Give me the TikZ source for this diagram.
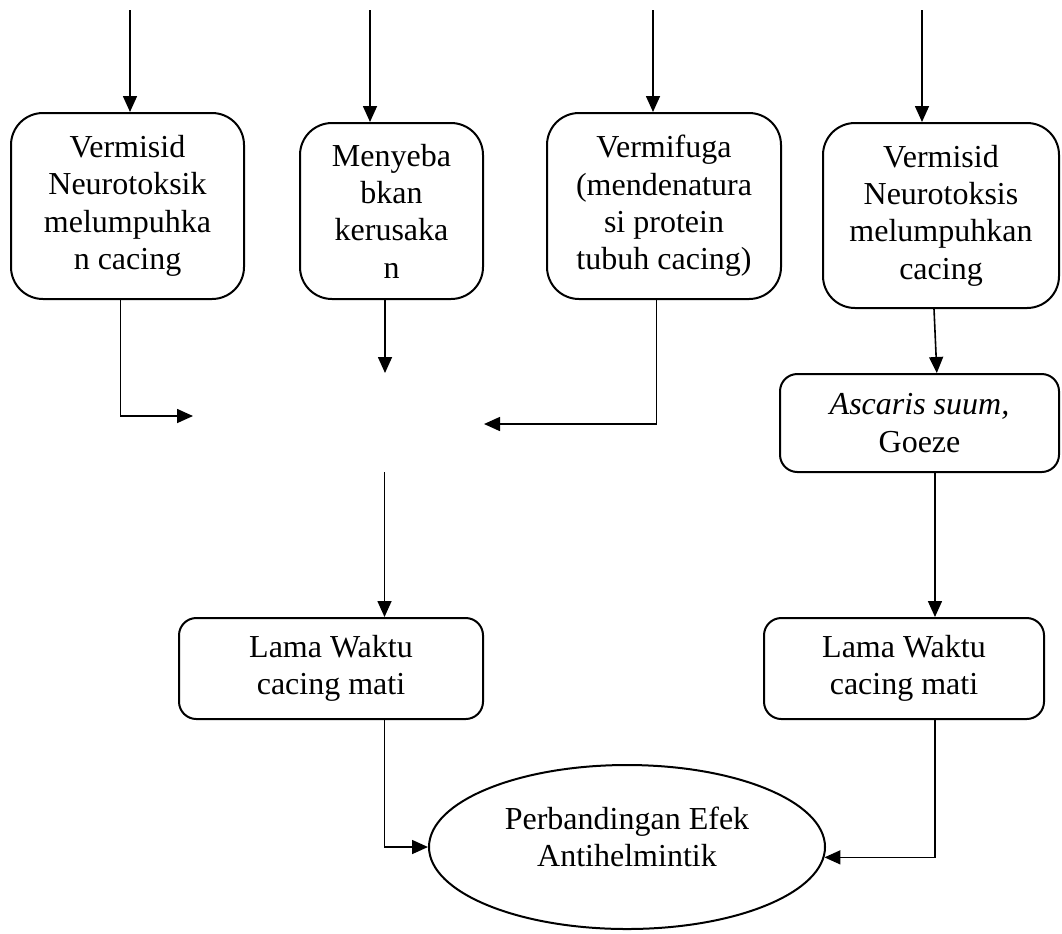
\documentclass[tikz,border=0pt]{standalone}
\usepackage{fontspec}
\setmainfont{Liberation Serif}
\usetikzlibrary{arrows.meta,shapes.geometric}
\begin{document}
\begin{tikzpicture}[x=0.75pt,y=-0.75pt,
  every node/.style={font=\fontsize{24}{28}\selectfont},
  box/.style={draw,line width=1.5pt,rounded corners=24pt,align=center,inner sep=0pt},
  sbox/.style={draw,line width=1.5pt,rounded corners=13pt,align=center,inner sep=0pt},
  conn/.style={line width=1.2pt,-{Triangle[length=12pt,width=10.5pt]}},
  line/.style={line width=1.2pt}]
\useasboundingbox (0,0) rectangle (1062,933);
% boxes
\node[box,minimum width=174.75pt,minimum height=139.5pt] (b1) at (127.5,206)
  {Vermisid\\Neurotoksik\\melumpuhka\\n cacing};
\node[box,minimum width=137.25pt,minimum height=132pt] (b2) at (391.5,211)
  {Menyeba\\bkan\\kerusaka\\n};
\node[box,minimum width=175.5pt,minimum height=139.5pt] (b3) at (664,206)
  {Vermifuga\\(mendenatura\\si protein\\tubuh cacing)};
\node[box,minimum width=177pt,minimum height=138.75pt] (b4) at (941,215.5)
  {Vermisid\\Neurotoksis\\melumpuhkan\\cacing};
\node[sbox,minimum width=209.25pt,minimum height=73.5pt] (asc) at (919.5,423)
  {\textit{Ascaris suum,}\\Goeze};
\node[sbox,minimum width=228pt,minimum height=75.75pt] (l1) at (331,668.5)
  {Lama Waktu\\cacing mati};
\node[sbox,minimum width=210pt,minimum height=75.75pt] (l2) at (904,668.5)
  {Lama Waktu\\cacing mati};
\node[draw,ellipse,line width=1.5pt,minimum width=297pt,minimum height=123pt,inner sep=0pt] (ell) at (627,847) {};
\node[align=center] (ellt) at (627,837) {Perbandingan Efek\\Antihelmintik};
% free ends
\coordinate (t1) at (130,10);
\coordinate (t2) at (370,10);
\coordinate (t3) at (653,10);
\coordinate (t4) at (922,10);
\coordinate (e1) at (193,416);
\coordinate (e2) at (385,373);
\coordinate (e3) at (484,424);
\coordinate (e4) at (384.5,472);
% connectors
\draw[conn] (t1) -- (t1 |- b1.north);
\draw[conn] (t2) -- (t2 |- b2.north);
\draw[conn] (t3) -- (t3 |- b3.north);
\draw[conn] (t4) -- (t4 |- b4.north);
\draw[conn] ([xshift=-5.25pt]b1.south) |- (e1);
\draw[conn] (e2 |- b2.south) -- (e2);
\draw[conn] ([xshift=-5.6pt]b3.south) |- (e3);
\draw[conn] ([xshift=-5.25pt]b4.south) -- ([xshift=13pt]asc.north);
\draw[conn] ([xshift=11.6pt]asc.south) -- ([xshift=11.6pt]asc.south |- l2.north);
\draw[conn] (e4) -- (e4 |- l1.north);
\draw[conn] ([xshift=40.1pt]l1.south) |- (ell.180);
\draw[conn] ([xshift=23.25pt]l2.south) |- (ell.-3);
\end{tikzpicture}
\end{document}
